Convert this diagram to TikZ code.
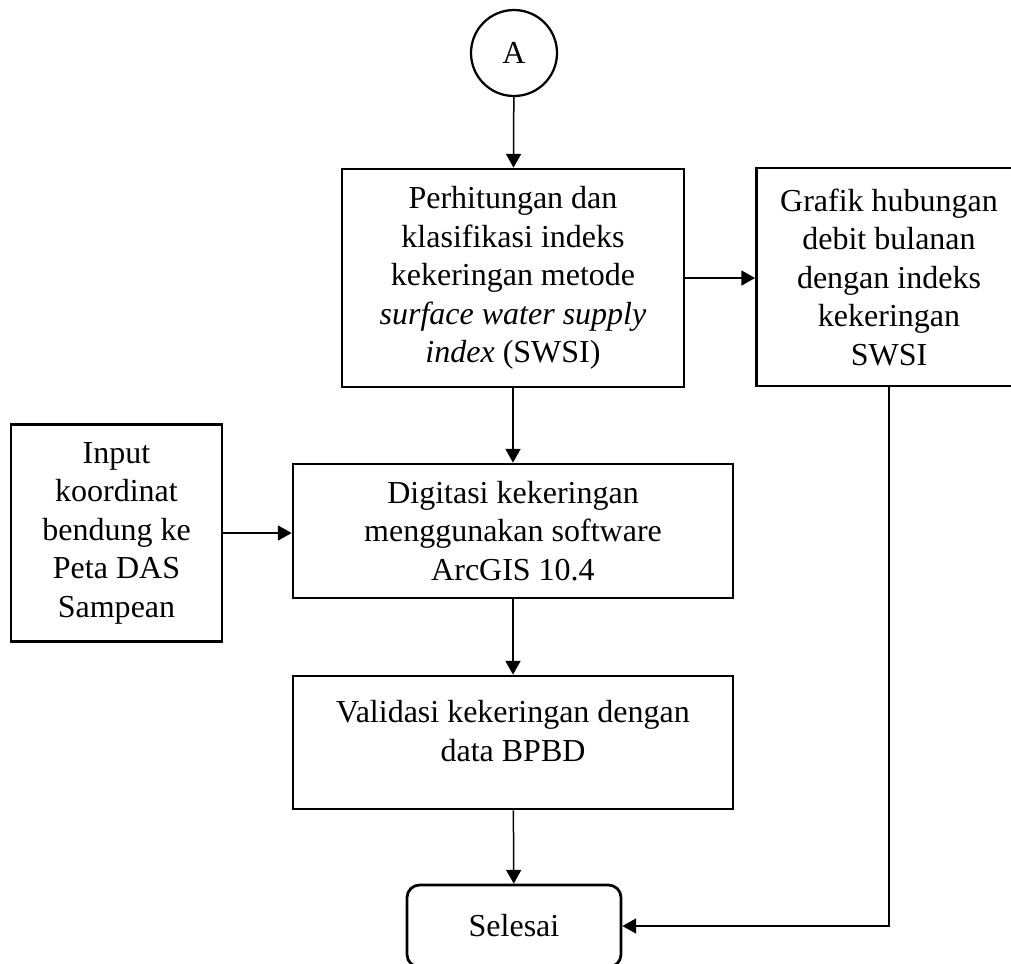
\documentclass[tikz,border=0pt]{standalone}
\usepackage{fontspec}
\setmainfont{Liberation Serif}
\usetikzlibrary{arrows.meta}
\begin{document}
\begin{tikzpicture}[x=0.4pt,y=-0.4pt,
  box/.style={draw,line width=1.1pt,align=center,inner sep=0pt,font=\fontsize{12.8}{15.4}\selectfont},
  arr/.style={-{Triangle[width=6pt,length=5.5pt]},line width=0.6pt}]
  \useasboundingbox (0,0) rectangle (1011,963);
  \node[draw,circle,line width=0.9pt,minimum size=34.4pt,inner sep=0pt,font=\fontsize{12.8}{15.4}\selectfont] (konektor) at (514,53) {A};
  \node[box,minimum width=136.8pt,minimum height=87.2pt] (hitung) at (513,278)
    {Perhitungan dan\\klasifikasi indeks\\kekeringan metode\\\textit{surface water supply}\\\textit{index} (SWSI)};
  \node[box,minimum width=106pt,minimum height=87.2pt] (grafik) at (889,277)
    {Grafik hubungan\\debit bulanan\\dengan indeks\\kekeringan\\SWSI};
  \node[box,minimum width=84.4pt,minimum height=86.8pt] (input) at (116.5,533)
    {Input\\koordinat\\bendung ke\\Peta DAS\\Sampean};
  \node[box,minimum width=176pt,minimum height=53.6pt] (digitasi) at (513,531)
    {Digitasi kekeringan\\menggunakan software\\ArcGIS 10.4};
  \node[box,minimum width=176pt,minimum height=53.2pt,text depth=9.5pt] (validasi) at (513,742.5)
    {Validasi kekeringan dengan\\data BPBD};
  \node[box,rounded corners=5pt,minimum width=85.6pt,minimum height=32.8pt] (selesai) at (514,926) {Selesai};
  \draw[arr] (konektor) -- (hitung);
  \draw[arr] (hitung.east) -- (grafik.west |- hitung.east);
  \draw[arr] (hitung) -- (digitasi);
  \draw[arr] (input.east) -- (digitasi.west |- input.east);
  \draw[arr] (digitasi) -- (validasi);
  \draw[arr] (validasi) -- (selesai);
  \draw[arr] (grafik.south) |- (selesai.east);
\end{tikzpicture}
\end{document}
